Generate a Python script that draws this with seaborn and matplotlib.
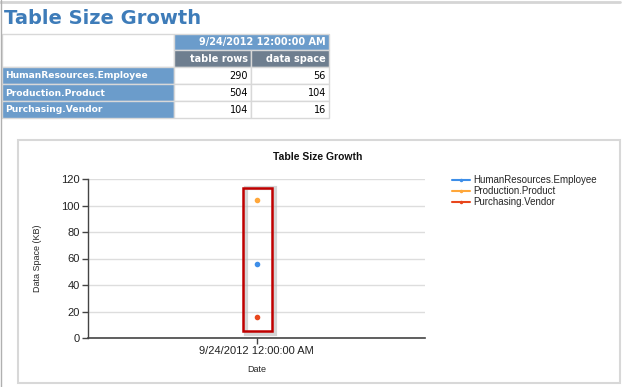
import numpy as np
import pandas as pd
import seaborn as sns
import matplotlib.pyplot as plt
from matplotlib.patches import Rectangle
from matplotlib.lines import Line2D

# data
dates = ["9/24/2012 12:00:00 AM"]
tables = ["HumanResources.Employee", "Production.Product", "Purchasing.Vendor"]
table_rows = [290, 504, 104]
data_space = [56, 104, 16]
colors = ["#3D8EE8", "#FFA73A", "#E8461C"]
y_ticks = [0, 20, 40, 60, 80, 100, 120]

df = pd.DataFrame({"Date": dates * len(tables), "Table": tables,
                   "Rows": table_rows, "Space": data_space})

sns.set_style("white")
plt.rcParams['font.family'] = ['DejaVu Sans']

fig = plt.figure(figsize=(6.24, 3.87), dpi=100)

# background axes in pixel coords for the report page
bg = fig.add_axes([0, 0, 1, 1])
bg.set_xlim(0, 624)
bg.set_ylim(387, 0)
bg.axis('off')

bg.plot([0, 620], [1.5, 1.5], color="#D5D5D5", lw=2)
bg.plot([1, 1], [0, 387], color="#B0B0B0", lw=1)

bg.text(4, 19, "Table Size Growth", fontsize=14, fontweight='bold',
        color="#3E7CB9", va='center', ha='left')

# report table
blue = "#6B9CCB"
gray = "#6E7E8F"
cols = [2, 174, 251, 329]
rws = [34, 50, 67, 84, 101, 118]

def cell(x0, x1, y0, y1, fc, text="", tc="white", ha='left', bold=True, fs=7):
    bg.add_patch(Rectangle((x0, y0), x1 - x0, y1 - y0, facecolor=fc,
                           edgecolor="#D8D8D8", lw=1))
    if text:
        tx = x0 + 3 if ha == 'left' else x1 - 3
        bg.text(tx, (y0 + y1) / 2 + 0.5, text, fontsize=fs, color=tc, ha=ha,
                va='center', fontweight='bold' if bold else 'normal')

cell(cols[0], cols[1], rws[0], rws[2], "white")
cell(cols[1], cols[3], rws[0], rws[1], blue, dates[0], ha='right')
cell(cols[1], cols[2], rws[1], rws[2], gray, "table rows", ha='right')
cell(cols[2], cols[3], rws[1], rws[2], gray, "data space", ha='right')
for i, t in enumerate(tables):
    y0, y1 = rws[i + 2], rws[i + 3]
    cell(cols[0], cols[1], y0, y1, blue, t, fs=6.6)
    cell(cols[1], cols[2], y0, y1, "white", str(table_rows[i]), tc="black",
         ha='right', bold=False)
    cell(cols[2], cols[3], y0, y1, "white", str(data_space[i]), tc="black",
         ha='right', bold=False)

# chart panel
bg.add_patch(Rectangle((18, 140), 602, 243, facecolor="white",
                       edgecolor="#D8D8D8", lw=1.5))
bg.text(318, 157, "Table Size Growth", fontsize=7.5, fontweight='bold',
        family='Liberation Sans', ha='center', va='center', color="#111111")

# chart axes
ax = fig.add_axes([88 / 624, 49 / 387, 337 / 624, 159 / 387])
sns.pointplot(data=df, x="Date", y="Space", hue="Table", palette=colors,
              markers='o', linestyles='', markersize=2, dodge=False,
              legend=False, ax=ax)
ax.set_xlim(-0.5, 0.5)
ax.set_ylim(0, 120)
ax.set_yticks(y_ticks)
ax.yaxis.grid(True, color="#DDDDDD", lw=1)
ax.set_axisbelow(True)
for s in ['top', 'right']:
    ax.spines[s].set_visible(False)
ax.spines['left'].set_color("#444444")
ax.spines['bottom'].set_color("#444444")
ax.spines['left'].set_linewidth(1)
ax.spines['bottom'].set_linewidth(1.2)
ax.tick_params(axis='both', direction='out', length=4, width=1,
               color="#444444", labelsize=8, labelcolor="#222222", pad=2,
               left=True, bottom=True)
for lab in ax.get_xticklabels() + ax.get_yticklabels():
    lab.set_family('Liberation Sans')
ax.set_xlabel("Date", fontsize=6.5, family='Liberation Sans', labelpad=6)
ax.set_ylabel("Data Space (KB)", fontsize=6.5, family='Liberation Sans',
              labelpad=14)

# red highlight box with soft shadow
ax.add_patch(Rectangle((0.468, 0.025), 0.086, 0.92, transform=ax.transAxes,
                       facecolor="none", edgecolor="#BBBBBB", lw=3,
                       alpha=0.6, clip_on=False))
ax.add_patch(Rectangle((0.460, 0.044), 0.086, 0.90, transform=ax.transAxes,
                       facecolor="none", edgecolor="#C00000", lw=1.8,
                       clip_on=False))

handles = [Line2D([], [], color=c, lw=1.5, marker='o', markersize=1.5)
           for c in colors]
ax.legend(handles, tables, loc='upper left', bbox_to_anchor=(452 / 624, 1 - 175 / 387),
          bbox_transform=fig.transFigure, frameon=False,
          prop={'family': 'Liberation Sans', 'size': 7}, handlelength=1.8,
          handletextpad=0.4, labelspacing=0.1, borderpad=0, borderaxespad=0)

fig.savefig("out.png", dpi=100)
